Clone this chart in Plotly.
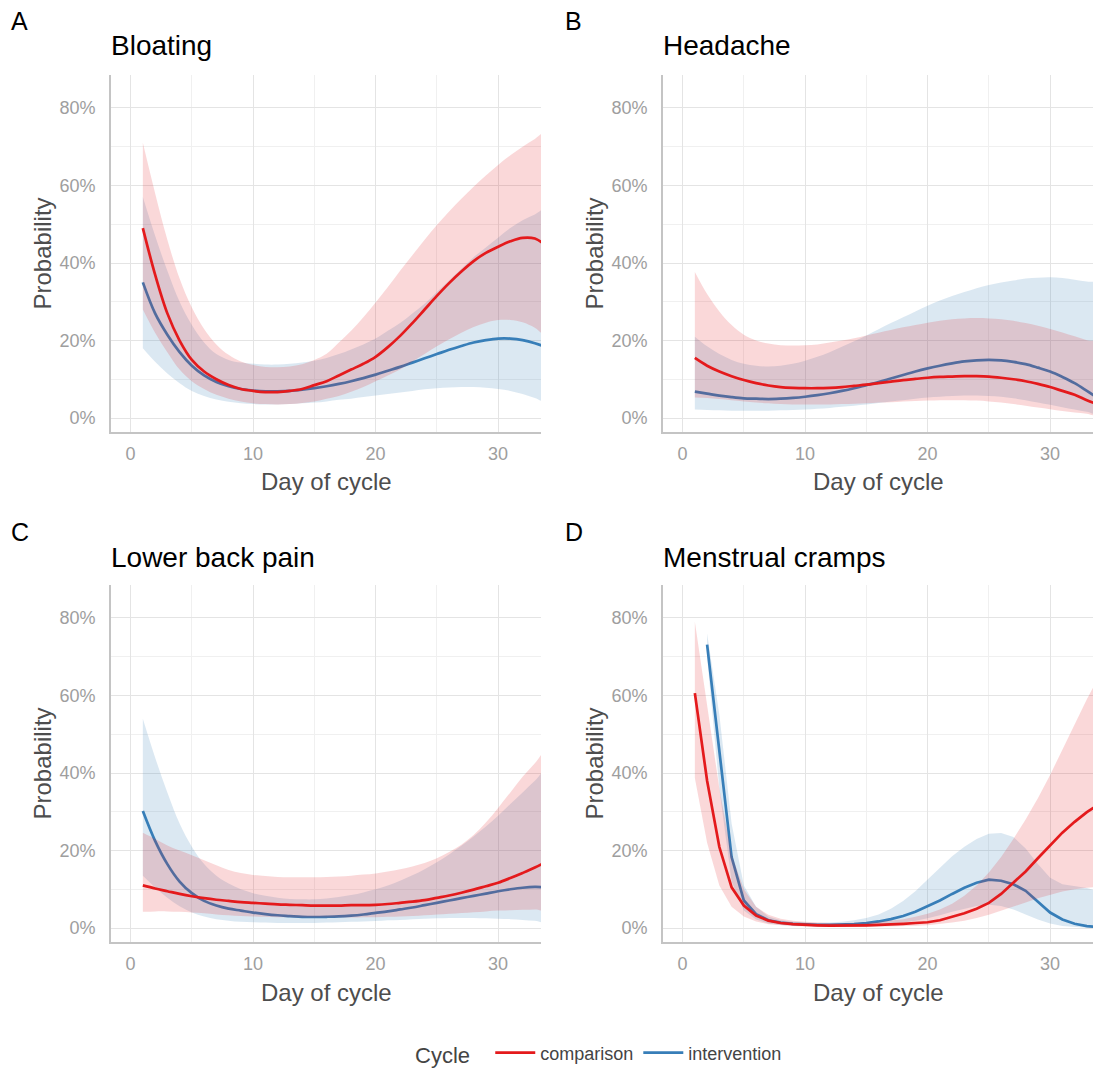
import plotly.graph_objects as go

# ---------------- data (probabilities in %) ----------------
days = list(range(1, 35))          # day 1 .. 34
days_d_int = list(range(2, 35))    # menstrual cramps, intervention starts on day 2

panels = ["Bloating", "Headache", "Lower back pain", "Menstrual cramps"]
panel_letters = ["A", "B", "C", "D"]
y_ticks = [0, 0.2, 0.4, 0.6, 0.8]
y_tick_text = ["0%", "20%", "40%", "60%", "80%"]
x_ticks = [0, 10, 20, 30]
series_names = ["comparison", "intervention"]

# A - Bloating
bloat_comp = [49, 37, 27, 20, 15, 12, 10, 8.5, 7.5, 7, 6.7, 6.7, 7, 7.5, 8.5, 9.5, 11, 12.5, 14, 15.8,
              18.3, 21.2, 24.5, 28, 31.5, 34.8, 37.8, 40.5, 42.6, 44.2, 45.6, 46.5, 46.3, 44.2]
bloat_comp_hi = [71, 58, 46, 36, 28.5, 23, 19, 16.3, 14.6, 13.7, 13.2, 13.1, 13.3, 13.9, 15, 16.6, 19.5,
                 22.5, 26, 29.8, 33.8, 38, 42, 46, 49.8, 53.3, 56.6, 59.7, 62.6, 65.3, 67.8, 70, 72, 73.8]
bloat_comp_lo = [28, 22, 17, 12.5, 9.5, 7.5, 6, 5, 4.3, 3.8, 3.6, 3.5, 3.6, 3.9, 4.3, 5, 5.7, 6.8, 8, 9.5,
                 11, 12.5, 14.5, 16.5, 18.5, 20.3, 22, 23.5, 24.6, 25.3, 25.3, 24.7, 23.3, 21.3]
bloat_int = [35, 27, 21.5, 17, 13.5, 11, 9.3, 8.2, 7.5, 7.1, 6.9, 6.9, 7.0, 7.3, 7.7, 8.2, 8.8, 9.5, 10.3,
             11.2, 12.2, 13.2, 14.3, 15.4, 16.5, 17.6, 18.6, 19.5, 20.1, 20.5, 20.5, 20.1, 19.3, 18.2]
bloat_int_hi = [57, 47, 38, 30, 24, 19.5, 16.5, 15, 14.3, 14, 13.8, 13.8, 14, 14.3, 14.8, 15.5, 16.5, 17.7,
                19, 20.5, 22.5, 24.5, 27, 29.5, 32.5, 35.5, 38.5, 41.5, 44, 46.5, 49, 51, 52.5, 54]
bloat_int_lo = [18, 14.5, 11.5, 9, 7, 5.7, 4.8, 4.2, 3.8, 3.6, 3.5, 3.5, 3.6, 3.8, 4.0, 4.3, 4.7, 5.0, 5.4,
                5.8, 6.2, 6.6, 7.0, 7.4, 7.7, 7.9, 8.0, 8.0, 7.8, 7.5, 7.0, 6.2, 5.2, 4.3]

# B - Headache
head_comp = [15.5, 13.5, 12, 10.8, 9.8, 9, 8.4, 8, 7.8, 7.7, 7.7, 7.8, 8.0, 8.3, 8.6, 9.0, 9.4, 9.8, 10.1,
             10.4, 10.6, 10.7, 10.8, 10.8, 10.7, 10.4, 10.0, 9.5, 8.8, 8.0, 7.0, 6.0, 4.6, 3.4]
head_comp_hi = [37.7, 32, 27.5, 24, 21.5, 20, 19.2, 18.8, 18.7, 18.8, 19, 19.5, 20, 20.6, 21.3, 22, 22.7,
                23.4, 24, 24.6, 25.1, 25.5, 25.7, 25.8, 25.7, 25.5, 25.1, 24.5, 23.8, 23, 22.1, 21.1, 20.1, 19.2]
head_comp_lo = [5.3, 5.2, 4.9, 4.6, 4.3, 4.0, 3.8, 3.6, 3.5, 3.5, 3.5, 3.5, 3.6, 3.7, 3.8, 4.0, 4.1, 4.3,
                4.4, 4.5, 4.6, 4.6, 4.6, 4.5, 4.3, 4.0, 3.6, 3.2, 2.7, 2.3, 1.8, 1.4, 1.1, 0.8]
head_int = [6.8, 6.3, 5.8, 5.4, 5.1, 5.0, 4.9, 5.0, 5.2, 5.5, 5.9, 6.4, 7.0, 7.7, 8.5, 9.3, 10.2, 11.1, 12.0,
            12.8, 13.5, 14.1, 14.6, 14.9, 15.0, 14.9, 14.5, 13.9, 13.0, 12.0, 10.6, 9.0, 7.0, 4.9]
head_int_hi = [21, 18.5, 16.5, 15, 14, 13.5, 13.3, 13.5, 14, 14.8, 15.8, 17, 18.4, 19.8, 21.3, 22.9, 24.5,
               26, 27.5, 29, 30.3, 31.5, 32.5, 33.5, 34.3, 35, 35.5, 36, 36.2, 36.3, 36.1, 35.7, 35.2, 34.5]
head_int_lo = [2.2, 2.1, 2.0, 1.9, 1.9, 1.9, 1.9, 2.0, 2.1, 2.2, 2.4, 2.6, 2.9, 3.2, 3.5, 3.9, 4.3, 4.6, 5.0,
               5.3, 5.5, 5.7, 5.8, 5.8, 5.7, 5.5, 5.1, 4.6, 4.0, 3.4, 2.8, 2.2, 1.6, 1.2]

# C - Lower back pain
back_comp = [11.0, 10.2, 9.5, 8.8, 8.2, 7.7, 7.3, 7.0, 6.7, 6.5, 6.3, 6.1, 6.0, 5.9, 5.8, 5.8, 5.8, 5.9, 5.9,
             6.0, 6.2, 6.5, 6.8, 7.2, 7.8, 8.4, 9.1, 9.9, 10.8, 11.7, 12.9, 14.2, 15.6, 17.2]
back_comp_hi = [24.6, 23, 21.3, 20, 18.8, 17.5, 16.2, 15, 14.2, 13.7, 13.4, 13.2, 13.1, 13.1, 13.1, 13.2,
                13.3, 13.5, 13.8, 14.1, 14.6, 15.2, 15.9, 16.8, 18, 19.6, 21.5, 24, 27.2, 31, 35, 39, 42.5, 46]
back_comp_lo = [4.2, 4.3, 4.3, 4.2, 4.0, 3.8, 3.5, 3.3, 3.1, 3.0, 2.9, 2.8, 2.8, 2.7, 2.7, 2.7, 2.7, 2.7,
                2.8, 2.8, 2.9, 3.0, 3.1, 3.3, 3.5, 3.7, 3.9, 4.1, 4.3, 4.5, 4.6, 4.7, 4.8, 4.9]
back_int = [30.2, 22.5, 16.5, 12, 9, 7, 5.8, 5.0, 4.5, 4.0, 3.6, 3.3, 3.1, 2.9, 2.85, 2.9, 3.0, 3.2, 3.5,
            3.9, 4.3, 4.8, 5.3, 5.9, 6.5, 7.1, 7.7, 8.3, 8.9, 9.5, 10.0, 10.4, 10.6, 10.5]
back_int_hi = [54, 44, 35, 27, 21, 16.5, 13.5, 11.5, 10, 9, 8.3, 7.8, 7.5, 7.4, 7.4, 7.6, 8.0, 8.5, 9.2,
               10.0, 11.0, 12.2, 13.6, 15.2, 17, 19, 21.2, 23.6, 26.2, 29, 32, 35, 38, 41]
back_int_lo = [13.5, 10.5, 7.8, 5.6, 4.0, 3.0, 2.3, 1.9, 1.6, 1.5, 1.4, 1.3, 1.3, 1.3, 1.3, 1.4, 1.5, 1.6,
               1.7, 1.8, 2.0, 2.1, 2.3, 2.4, 2.5, 2.6, 2.6, 2.6, 2.5, 2.4, 2.3, 2.1, 1.9, 1.7]

# D - Menstrual cramps
cramp_comp = [60.6, 38, 20.9, 10.5, 5.8, 3.2, 1.9, 1.3, 1.0, 0.8, 0.7, 0.6, 0.6, 0.6, 0.7, 0.8, 0.9, 1.1,
              1.3, 1.5, 2.0, 2.8, 3.8, 5.0, 6.5, 8.8, 11.6, 14.6, 18, 21.4, 24.6, 27.4, 29.9, 32]
cramp_comp_hi = [79, 57, 36, 19, 10, 5.5, 3.4, 2.4, 1.9, 1.6, 1.4, 1.3, 1.3, 1.3, 1.4, 1.6, 1.9, 2.3, 2.9,
                 3.7, 4.8, 6.3, 8.3, 11, 14.3, 18.3, 23, 28, 33.5, 39.5, 46, 52.5, 59, 65]
cramp_comp_lo = [38.7, 22, 11, 5.5, 3.0, 1.7, 1.0, 0.7, 0.5, 0.4, 0.3, 0.3, 0.3, 0.3, 0.3, 0.4, 0.4, 0.5,
                 0.6, 0.7, 1.0, 1.4, 1.9, 2.6, 3.4, 4.4, 5.5, 6.6, 7.7, 8.6, 9.4, 10.0, 10.4, 10.7]
cramp_int = [73.1, 45, 18.3, 7.1, 3.6, 2.0, 1.4, 1.1, 0.9, 0.8, 0.8, 0.9, 1.0, 1.3, 1.7, 2.3, 3.1, 4.2,
             5.6, 7.1, 8.8, 10.4, 11.7, 12.5, 12.2, 11.3, 9.6, 6.8, 4.0, 2.2, 1.1, 0.5, 0.2]
cramp_int_hi = [76, 55, 27, 11, 5.5, 3, 2, 1.6, 1.4, 1.3, 1.4, 1.6, 2.0, 2.6, 3.5, 5, 7, 9.5, 12.5, 15.5,
                18.5, 21, 23, 24.3, 24.5, 23.5, 20.5, 16.5, 13, 11.3, 10.8, 10.3, 9.5]
cramp_int_lo = [70, 36, 12, 4.5, 2.2, 1.2, 0.8, 0.6, 0.5, 0.4, 0.4, 0.4, 0.5, 0.6, 0.8, 1.0, 1.4, 1.9, 2.5,
                3.3, 4.2, 5.0, 5.7, 6.0, 5.7, 4.8, 3.5, 2.2, 1.2, 0.5, 0.2, 0.05, 0.02]

panel_data = [
    dict(cx=days, c=bloat_comp, chi=bloat_comp_hi, clo=bloat_comp_lo,
         ix=days, i=bloat_int, ihi=bloat_int_hi, ilo=bloat_int_lo),
    dict(cx=days, c=head_comp, chi=head_comp_hi, clo=head_comp_lo,
         ix=days, i=head_int, ihi=head_int_hi, ilo=head_int_lo),
    dict(cx=days, c=back_comp, chi=back_comp_hi, clo=back_comp_lo,
         ix=days, i=back_int, ihi=back_int_hi, ilo=back_int_lo),
    dict(cx=days, c=cramp_comp, chi=cramp_comp_hi, clo=cramp_comp_lo,
         ix=days_d_int, i=cramp_int, ihi=cramp_int_hi, ilo=cramp_int_lo),
]
line_shapes = ["spline", "spline", "spline", "linear"]

# ---------------- style ----------------
RED = "#E41A1C"
BLUE = "#377EB8"
RED_FILL = "rgba(228,26,28,0.17)"
BLUE_FILL = "rgba(55,126,184,0.18)"
FONT = "Liberation Sans, Arial, Helvetica, sans-serif"

W, H = 1095, 1077
# pixel geometry of panels (left, right, top, bottom)
boxes = [(111, 541, 75, 432), (663, 1093, 75, 432),
         (111, 541, 585, 942), (663, 1093, 585, 942)]


def pct(v):
    return [x / 100 for x in v]


fig = go.Figure()

for k, d in enumerate(panel_data):
    xa = "x" if k == 0 else f"x{k+1}"
    ya = "y" if k == 0 else f"y{k+1}"
    show = k == 0
    shp = line_shapes[k]
    # intervention ribbon + line
    fig.add_trace(go.Scatter(
        x=d["ix"] + d["ix"][::-1], y=pct(d["ihi"]) + pct(d["ilo"])[::-1],
        fill="toself", fillcolor=BLUE_FILL, line=dict(width=0, color=BLUE_FILL, shape=shp),
        mode="lines", hoverinfo="skip", showlegend=False, xaxis=xa, yaxis=ya))
    fig.add_trace(go.Scatter(
        x=d["ix"], y=pct(d["i"]), mode="lines", name=series_names[1],
        line=dict(color=BLUE, width=2.7, shape=shp), showlegend=show, legendrank=2,
        xaxis=xa, yaxis=ya))
    # comparison ribbon + line
    fig.add_trace(go.Scatter(
        x=d["cx"] + d["cx"][::-1], y=pct(d["chi"]) + pct(d["clo"])[::-1],
        fill="toself", fillcolor=RED_FILL, line=dict(width=0, color=RED_FILL, shape=shp),
        mode="lines", hoverinfo="skip", showlegend=False, xaxis=xa, yaxis=ya))
    fig.add_trace(go.Scatter(
        x=d["cx"], y=pct(d["c"]), mode="lines", name=series_names[0],
        line=dict(color=RED, width=2.7, shape=shp), showlegend=show, legendrank=1,
        xaxis=xa, yaxis=ya))

layout = dict(
    width=W, height=H,
    margin=dict(l=0, r=0, t=0, b=0),
    paper_bgcolor="white", plot_bgcolor="white",
    font=dict(family=FONT, color="#333333"),
    showlegend=True,
    legend=dict(
        orientation="h", x=600 / W, xanchor="center", y=1 - 1054 / H, yanchor="middle",
        title=dict(text="Cycle  ", font=dict(size=22, color="#444444"), side="left"),
        font=dict(size=18, color="#444444"), itemwidth=40, tracegroupgap=0,
        valign="middle",
    ),
)

annotations = []
for k, (l, r, t, b) in enumerate(boxes):
    sx = "" if k == 0 else str(k + 1)
    layout["xaxis" + sx] = dict(
        domain=[l / W, r / W], anchor="y" + sx, range=[-1.6, 33.5],
        tickvals=x_ticks, ticks="", ticklabelstandoff=4,
        tickfont=dict(size=18, color="#9E9E9E"),
        showgrid=True, gridcolor="#E4E4E4", gridwidth=1.4,
        minor=dict(dtick=5, tick0=0, showgrid=True, gridcolor="#F0F0F0", gridwidth=1.1),
        showline=True, linecolor="#C4C4C4", linewidth=1.8, zeroline=False,
    )
    layout["yaxis" + sx] = dict(
        domain=[1 - b / H, 1 - t / H], anchor="x" + sx, range=[-0.036, 0.885],
        tickvals=y_ticks, ticktext=y_tick_text, ticks="", ticklabelstandoff=10,
        tickfont=dict(size=18, color="#9E9E9E"),
        showgrid=True, gridcolor="#E4E4E4", gridwidth=1.4,
        minor=dict(dtick=0.1, tick0=0, showgrid=True, gridcolor="#F0F0F0", gridwidth=1.1),
        showline=True, linecolor="#C4C4C4", linewidth=1.8, zeroline=False,
    )
    row_off = 0 if k < 2 else 511
    # panel letter
    annotations.append(dict(
        text=panel_letters[k], xref="paper", yref="paper",
        x=(9 if k % 2 == 0 else 563) / W, y=1 - (21 + row_off) / H,
        xanchor="left", yanchor="middle", showarrow=False,
        font=dict(size=25, color="#000000")))
    # panel title
    annotations.append(dict(
        text=panels[k], xref="paper", yref="paper",
        x=(l - 2) / W, y=1 - (46 + row_off) / H,
        xanchor="left", yanchor="middle", showarrow=False,
        font=dict(size=28, color="#000000")))
    # x axis title
    annotations.append(dict(
        text="Day of cycle", xref="paper", yref="paper",
        x=(l + r) / 2 / W, y=1 - (481 + row_off) / H,
        xanchor="center", yanchor="middle", showarrow=False,
        font=dict(size=24, color="#4D4D4D")))
    # y axis title
    annotations.append(dict(
        text="Probability", xref="paper", yref="paper",
        x=(l - 69) / W, y=1 - (t + b) / 2 / H, textangle=-90,
        xanchor="center", yanchor="middle", showarrow=False,
        font=dict(size=24, color="#4D4D4D")))

layout["annotations"] = annotations
fig.update_layout(**layout)

fig.write_html("out.html", config={"displayModeBar": False},
               post_script="document.body.style.margin='0';")
